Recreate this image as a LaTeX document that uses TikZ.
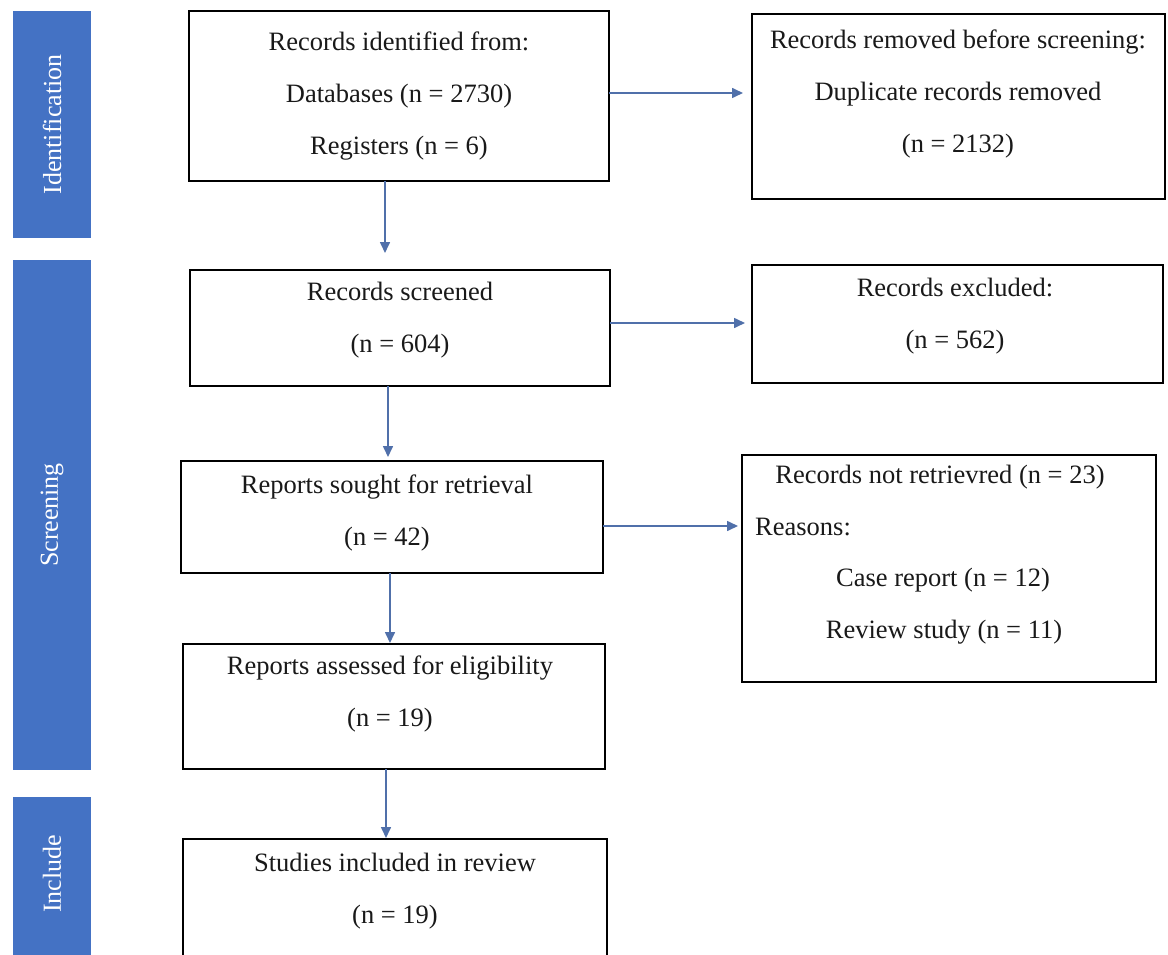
\documentclass[tikz,border=0pt]{standalone}
\usepackage{fontspec}
\setmainfont{Liberation Serif}
\usetikzlibrary{arrows.meta,calc}
\definecolor{barblue}{RGB}{68,114,196}
\definecolor{arrblue}{RGB}{80,112,170}
\definecolor{txtcol}{RGB}{25,25,25}
\begin{document}
\begin{tikzpicture}[x=1pt,y=-1pt,
  box/.style={draw=black,line width=2.4pt,fill=white,inner sep=0pt,outer sep=0pt},
  bar/.style={fill=barblue,draw=none,inner sep=0pt,outer sep=0pt},
  bartext/.style={text=white,rotate=90,inner sep=0pt,font=\fontsize{26}{30}\selectfont},
  txt/.style={align=center,inner sep=0pt,text=txtcol,font=\fontsize{26.5}{52}\selectfont},
  arr/.style={draw=arrblue,line width=1.6pt,-{Triangle[length=11pt,width=10pt]}}]
\useasboundingbox (0,0) rectangle (1168,955);
\clip (0,0) rectangle (1168,955);
\fill[white] (0,0) rectangle (1168,955);

% phase bars
\node[bar,minimum width=78pt,minimum height=227pt] (barI) at (52,124.5) {};
\node[bartext] (tI) at (barI.center) {Identification};
\node[bar,minimum width=78pt,minimum height=510pt] (barS) at (52,515) {};
\node[bartext] (tS) at (barS.center) {Screening};
\node[bar,minimum width=78pt,minimum height=203pt] (barN) at (52,898.5) {};
\node[bartext] (tN) at (52,874) {Include};

% boxes
\node[box,minimum width=420pt,minimum height=170pt] (A) at (399,96) {};
\node[box,minimum width=413pt,minimum height=185pt] (B) at (958.5,106.5) {};
\node[box,minimum width=420pt,minimum height=116pt] (C) at (400,328) {};
\node[box,minimum width=411pt,minimum height=118pt] (D) at (957.5,324) {};
\node[box,minimum width=422pt,minimum height=112pt] (E) at (392,517) {};
\node[box,minimum width=414pt,minimum height=227pt] (F) at (949,568.5) {};
\node[box,minimum width=422pt,minimum height=125pt] (G) at (394,706.5) {};
\node[box,minimum width=424pt,minimum height=161pt] (H) at (395,919.5) {};

% texts
\node[txt] (tA) at (399,96) {Records identified from:\\Databases (n = 2730)\\Registers (n = 6)};
\node[txt] (tB) at (958,94) {Records removed before screening:\\Duplicate records removed\\(n = 2132)};
\node[txt] (tC) at (400,320) {Records screened\\(n = 604)};
\node[txt] (tD) at (955,316) {Records excluded:\\(n = 562)};
\node[txt] (tE) at (387,513) {Reports sought for retrieval\\(n = 42)};
\node[txt] (tF1) at (940,477) {Records not retrievred (n = 23)};
\node[txt,anchor=west] (tF2) at (755,527) {Reasons:};
\node[txt] (tF3) at (943,580) {Case report (n = 12)};
\node[txt] (tF4) at (944,632) {Review study (n = 11)};
\node[txt] (tG) at (390,694) {Reports assessed for eligibility\\(n = 19)};
\node[txt] (tH) at (395,891) {Studies included in review\\(n = 19)};

% connectors
\draw[arr,shorten >=9pt] ([yshift=3pt]A.east) -- ([yshift=3pt]A.east -| B.west);
\draw[arr,shorten >=17pt] ([xshift=-14pt]A.south) -- ([xshift=-15pt]C.north);
\draw[arr,shorten >=7pt] ([yshift=5pt]C.east) -- ([yshift=5pt]C.east -| D.west);
\draw[arr,shorten >=4pt] ([xshift=-12pt]C.south) -- ([xshift=-4pt]E.north);
\draw[arr,shorten >=4pt] ([yshift=-9pt]E.east) -- ([yshift=-9pt]E.east -| F.west);
\draw[arr,shorten >=1pt] ([xshift=-2pt]E.south) -- ([xshift=-4pt]G.north);
\draw[arr,shorten >=1pt] ([xshift=-8pt]G.south) -- ([xshift=-9pt]H.north);
\end{tikzpicture}
\end{document}
